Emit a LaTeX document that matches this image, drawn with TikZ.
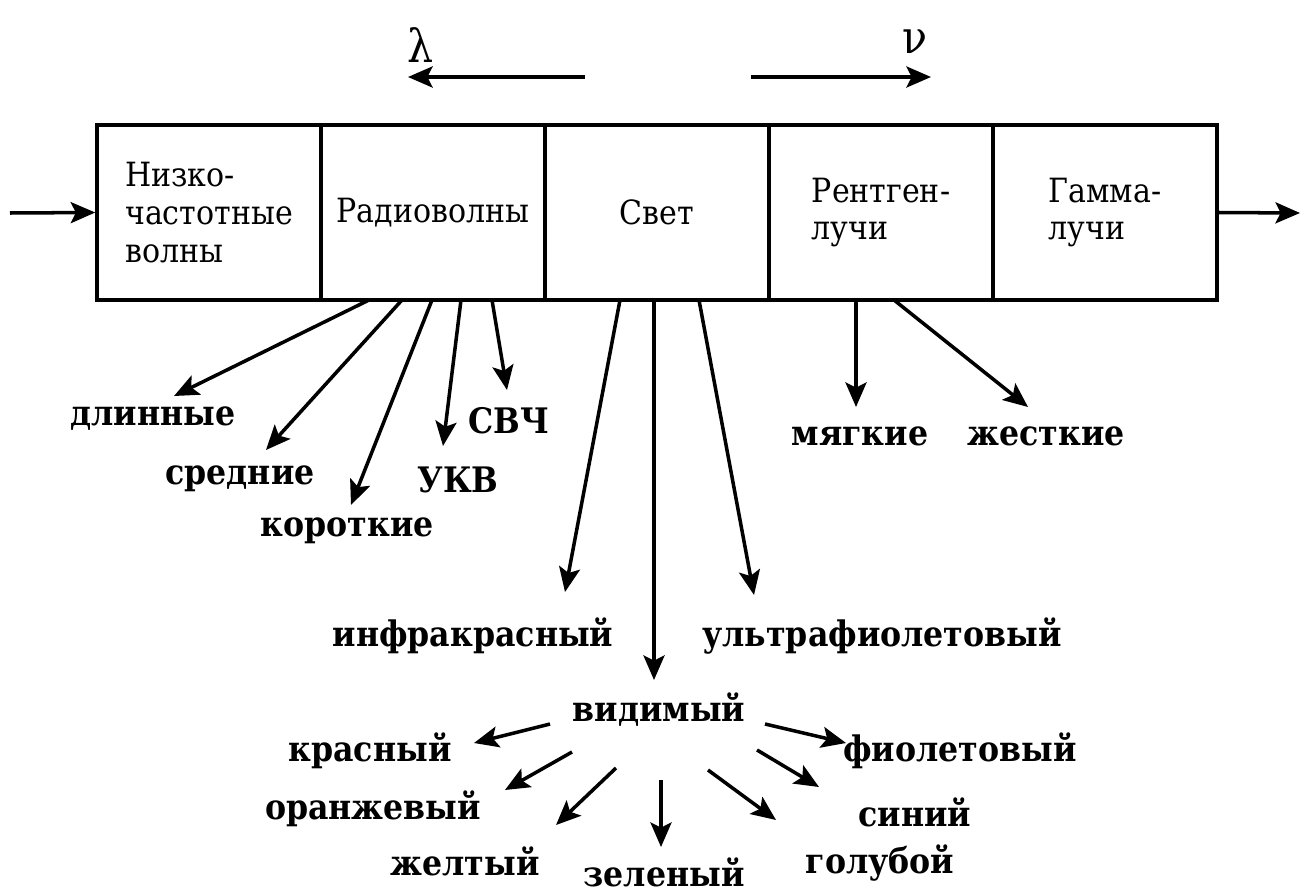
\documentclass[tikz,border=0pt]{standalone}
\usepackage{fontspec}
\setmainfont{DejaVu Serif Condensed}
\usetikzlibrary{arrows.meta}
\begin{document}
\begin{tikzpicture}[x=0.02cm,y=-0.02cm,
  cell/.style={draw,line width=2pt,minimum width=4.48cm,minimum height=3.5cm,inner sep=0pt,align=left,font=\fontsize{19}{21.5}\selectfont},
  lbl/.style={font=\bfseries\fontsize{20}{22}\selectfont,inner sep=1pt},
  greek/.style={font=\fontsize{26}{28}\selectfont,inner sep=0pt},
  arr/.style={line width=2pt,-{Stealth[length=14pt,width=12pt,inset=3pt]}}]
\useasboundingbox (0,0) rectangle (1301,892);
% cells
\node[cell] (c1) at (209,212.5) {Низко-\\частотные\\волны};
\node[cell] (c2) at (433,212.5) {Радиоволны};
\node[cell] (c3) at (657,212.5) {Свет};
\node[cell] (c4) at (881,212.5) {Рентген-\\лучи};
\node[cell] (c5) at (1105,212.5) {Гамма-\\лучи};
% in/out arrows
\coordinate (in) at (10,213);
\coordinate (out) at (1300,213);
\draw[arr] (in) -- (c1.west);
\draw[arr] (c5.east) -- (out);
% lambda / nu
\node[greek] (lam) at (421,45) {λ};
\node[greek] (nu) at (915,42) {ν};
\coordinate (la) at (585,77); \coordinate (lb) at (408,77);
\coordinate (na) at (751,77); \coordinate (nb) at (931,77);
\draw[arr] (la) -- (lb);
\draw[arr] (na) -- (nb);
% labels
\node[lbl] (dlin) at (153,419) {длинные};
\node[lbl] (sred) at (240,479) {средние};
\node[lbl] (korot) at (347,531) {короткие};
\node[lbl] (ukv) at (458,480) {УКВ};
\node[lbl] (svch) at (509,421) {СВЧ};
\node[lbl] (infra) at (473,636) {инфракрасный};
\node[lbl] (ultra) at (882,636) {ультрафиолетовый};
\node[lbl] (vid) at (659,710) {видимый};
\node[lbl] (myag) at (860,436) {мягкие};
\node[lbl] (zhest) at (1046,436) {жесткие};
\node[lbl] (kras) at (370,751) {красный};
\node[lbl] (oranzh) at (373,809) {оранжевый};
\node[lbl] (zhelt) at (465,861) {желтый};
\node[lbl] (zelen) at (664,872) {зеленый};
\node[lbl] (golub) at (880,863) {голубой};
\node[lbl] (sin) at (915,812) {синий};
\node[lbl] (fiol) at (960,751) {фиолетовый};
% start coordinates on cell bottoms and tips
\coordinate (s1) at (369,300); \coordinate (t1) at (174,396);
\coordinate (s2) at (402,300); \coordinate (t2) at (266,450);
\coordinate (s3) at (432,300); \coordinate (t3) at (351,505);
\coordinate (s4) at (461,300); \coordinate (t4) at (443,446);
\coordinate (s5) at (492,300); \coordinate (t5) at (507,390);
\coordinate (s6) at (620,300); \coordinate (t6) at (565,592);
\coordinate (s7) at (654,300); \coordinate (t7) at (654,680);
\coordinate (s8) at (699,300); \coordinate (t8) at (754,595);
\coordinate (s9) at (856,300); \coordinate (t9) at (856,407);
\coordinate (s10) at (894,300); \coordinate (t10) at (1028,407);
\draw[arr] (s1) -- (t1);
\draw[arr] (s2) -- (t2);
\draw[arr] (s3) -- (t3);
\draw[arr] (s4) -- (t4);
\draw[arr] (s5) -- (t5);
\draw[arr] (s6) -- (t6);
\draw[arr] (s7) -- (t7);
\draw[arr] (s8) -- (t8);
\draw[arr] (s9) -- (t9);
\draw[arr] (s10) -- (t10);
% visible spectrum arrows
\coordinate (v1) at (550,724); \coordinate (w1) at (474,743);
\coordinate (v2) at (572,752); \coordinate (w2) at (505,790);
\coordinate (v3) at (616,768); \coordinate (w3) at (556,825);
\coordinate (v4) at (661,780); \coordinate (w4) at (661,847);
\coordinate (v5) at (708,770); \coordinate (w5) at (776,820);
\coordinate (v6) at (757,750); \coordinate (w6) at (819,787);
\coordinate (v7) at (765,724); \coordinate (w7) at (846,743);
\draw[arr] (v1) -- (w1);
\draw[arr] (v2) -- (w2);
\draw[arr] (v3) -- (w3);
\draw[arr] (v4) -- (w4);
\draw[arr] (v5) -- (w5);
\draw[arr] (v6) -- (w6);
\draw[arr] (v7) -- (w7);
\end{tikzpicture}
\end{document}
